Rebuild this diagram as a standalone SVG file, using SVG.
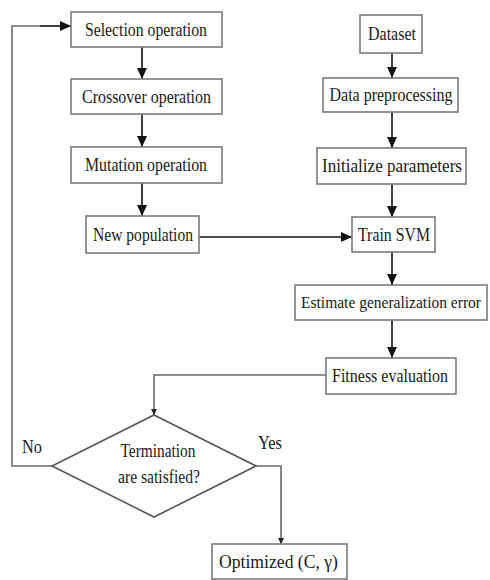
<svg xmlns="http://www.w3.org/2000/svg" width="490" height="580" viewBox="0 0 490 580">
<defs>
<style>
.box{fill:#fff;stroke:#7a7a7a;stroke-width:1.6}
.t{font-family:"Liberation Serif","Times New Roman",serif;font-size:19px;fill:#1a1a1a;text-anchor:middle}
.c{fill:none;stroke:#111;stroke-width:1.6}
.g{fill:none;stroke:#6a6a6a;stroke-width:1.6}
</style>
<marker id="big" markerUnits="userSpaceOnUse" markerWidth="12" markerHeight="10" refX="11" refY="5" orient="auto"><path d="M0,0 L11,5 L0,10 Z" fill="#111"/></marker>
<marker id="small" markerUnits="userSpaceOnUse" markerWidth="7" markerHeight="6" refX="6" refY="3" orient="auto"><path d="M0,0 L6,3 L0,6 Z" fill="#222"/></marker>
</defs>
<rect width="490" height="580" fill="#fff"/>
<g id="connectors">
<path class="c" d="M142,47 V79" marker-end="url(#big)"/>
<path class="c" d="M142,114 V147" marker-end="url(#big)"/>
<path class="c" d="M142,183 V216" marker-end="url(#big)"/>
<path class="c" d="M199,237 H352" marker-end="url(#big)"/>
<path class="c" d="M392,53 V78" marker-end="url(#big)"/>
<path class="c" d="M392,112 V148" marker-end="url(#big)"/>
<path class="c" d="M392,184 V217" marker-end="url(#big)"/>
<path class="c" d="M392,252 V285" marker-end="url(#big)"/>
<path class="c" d="M392,320 V358" marker-end="url(#big)"/>
<path class="g" d="M326,375 H154 V415" marker-end="url(#small)"/>
<path class="g" d="M256,466 H281 V544" marker-end="url(#small)"/>
<path class="g" d="M52,466 H12 V26 H40"/>
<path class="c" d="M40,26 H71" marker-end="url(#big)"/>
</g>
<g id="selection"><rect class="box" x="71" y="12" width="151" height="35"/><text class="t" x="146" y="36" textLength="122" lengthAdjust="spacingAndGlyphs">Selection operation</text></g>
<g id="crossover"><rect class="box" x="71" y="79" width="151" height="35"/><text class="t" x="146.5" y="103" textLength="129" lengthAdjust="spacingAndGlyphs">Crossover operation</text></g>
<g id="mutation"><rect class="box" x="71" y="147" width="151" height="36"/><text class="t" x="146" y="171" textLength="122" lengthAdjust="spacingAndGlyphs">Mutation operation</text></g>
<g id="newpop"><rect class="box" x="86" y="216" width="113" height="37"/><text class="t" x="143" y="241" textLength="100" lengthAdjust="spacingAndGlyphs">New population</text></g>
<g id="dataset"><rect class="box" x="360" y="15" width="62" height="38"/><text class="t" x="392" y="40" textLength="48" lengthAdjust="spacingAndGlyphs">Dataset</text></g>
<g id="preproc"><rect class="box" x="323" y="78" width="135" height="34"/><text class="t" x="391" y="101" textLength="123" lengthAdjust="spacingAndGlyphs">Data preprocessing</text></g>
<g id="init"><rect class="box" x="317" y="148" width="149" height="36"/><text class="t" x="392" y="172" textLength="140" lengthAdjust="spacingAndGlyphs">Initialize parameters</text></g>
<g id="train"><rect class="box" x="352" y="217" width="83" height="35"/><text class="t" x="394" y="241" textLength="72" lengthAdjust="spacingAndGlyphs">Train SVM</text></g>
<g id="estimate"><rect class="box" x="295" y="285" width="192" height="35"/><text class="t" x="391" y="308" style="font-size:16px" textLength="180" lengthAdjust="spacingAndGlyphs">Estimate generalization error</text></g>
<g id="fitness"><rect class="box" x="326" y="358" width="130" height="36"/><text class="t" x="390" y="382" textLength="116" lengthAdjust="spacingAndGlyphs">Fitness evaluation</text></g>
<g id="termination"><path d="M154,415 L256,466 L154,517 L52,466 Z" fill="#fff" stroke="#555" stroke-width="1.6"/><text class="t" x="158" y="457" textLength="75" lengthAdjust="spacingAndGlyphs">Termination</text><text class="t" x="159" y="483" textLength="82" lengthAdjust="spacingAndGlyphs">are satisfied?</text></g>
<g id="labels"><text class="t" x="32" y="453" textLength="20" lengthAdjust="spacingAndGlyphs">No</text><text class="t" x="270" y="449" textLength="24" lengthAdjust="spacingAndGlyphs">Yes</text></g>
<g id="optimized"><rect class="box" x="212" y="544" width="135" height="35"/><text class="t" x="278.5" y="568" textLength="119" lengthAdjust="spacingAndGlyphs">Optimized (C, γ)</text></g>
</svg>
